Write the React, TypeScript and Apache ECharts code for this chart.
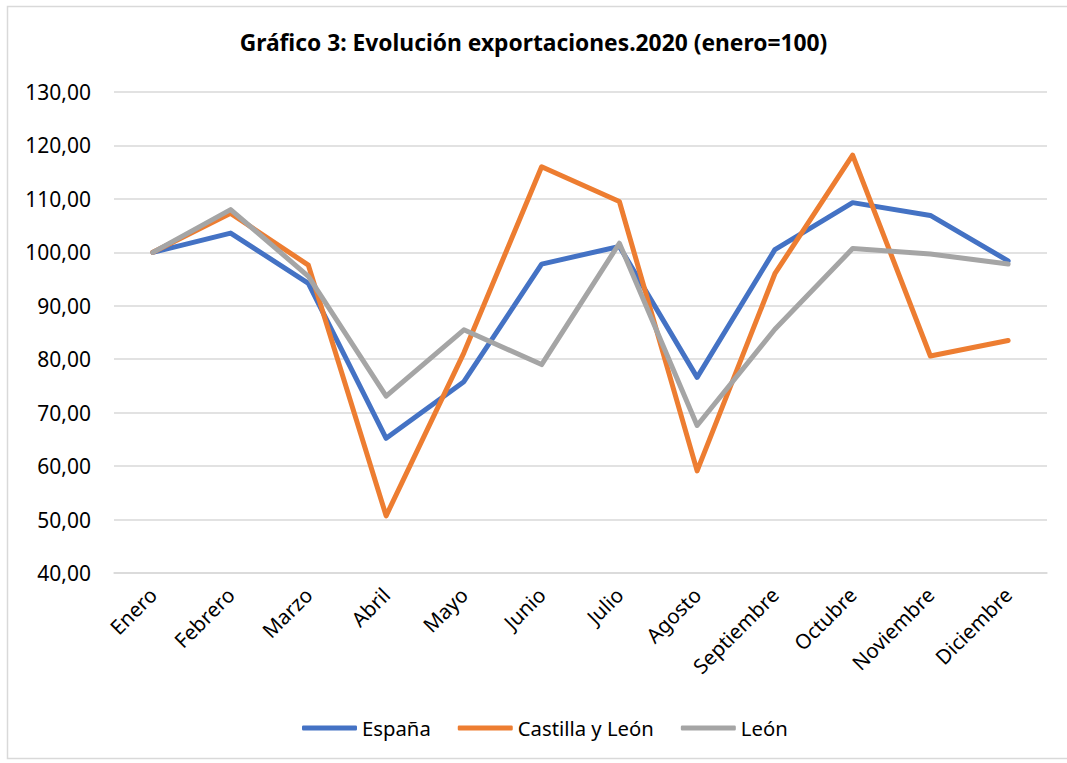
import React, { useEffect, useRef } from "react";
import * as echarts from "echarts";

const categories = ["Enero", "Febrero", "Marzo", "Abril", "Mayo", "Junio", "Julio", "Agosto", "Septiembre", "Octubre", "Noviembre", "Diciembre"];
const espana = [100, 103.6, 94.2, 65.2, 75.8, 97.8, 101.1, 76.6, 100.5, 109.3, 106.9, 98.4];
const castillaLeon = [100, 107.3, 97.6, 50.7, 81.2, 116.0, 109.5, 59.1, 96.0, 118.2, 80.6, 83.5];
const leon = [100, 108.0, 95.5, 73.1, 85.5, 79.0, 101.7, 67.6, 85.6, 100.7, 99.7, 97.8];
const seriesNames = ["España", "Castilla y León", "León"];
const seriesColors = ["#4472C4", "#ED7D31", "#A5A5A5"];
const titleText = "Gráfico 3: Evolución exportaciones.2020 (enero=100)";

export default function App() {
  const ref = useRef<HTMLDivElement>(null);
  useEffect(() => {
    if (!ref.current) return;
    const chart = echarts.init(ref.current, null, { renderer: "svg" });
    const font = "'Noto Sans', sans-serif";
    const datasets = [espana, castillaLeon, leon];
    chart.setOption({
      animation: false,
      backgroundColor: "#ffffff",
      textStyle: { fontFamily: font },
      title: {
        text: titleText,
        left: "center",
        top: 26,
        padding: [5, 5, 5, 21],
        textStyle: { fontFamily: font, fontSize: 22.8, fontWeight: "bold", color: "#000000" },
      },
      graphic: [
        {
          type: "rect",
          shape: { x: 7.5, y: 6.5, width: 1070, height: 752 },
          style: { fill: "none", stroke: "#d9d9d9", lineWidth: 1.5 },
          silent: true,
        },
      ],
      legend: {
        bottom: 20,
        left: 297,
        icon: "roundRect",
        itemWidth: 55,
        itemHeight: 5,
        itemGap: 27,
        data: seriesNames,
        textStyle: { fontFamily: font, fontSize: 20.3, color: "#000000" },
      },
      grid: { left: 114, right: 20, top: 92, bottom: 190, containLabel: false },
      xAxis: {
        type: "category",
        data: categories,
        boundaryGap: true,
        axisLine: { lineStyle: { color: "#d9d9d9", width: 1.5 } },
        axisTick: { show: false },
        axisLabel: { rotate: 45, margin: 18, fontFamily: font, fontSize: 20.5, color: "#000000" },
      },
      yAxis: {
        type: "value",
        min: 40,
        max: 130,
        interval: 10,
        axisLine: { show: false },
        axisTick: { show: false },
        splitLine: { lineStyle: { color: "#d9d9d9", width: 1.5 } },
        axisLabel: {
          margin: 23,
          fontFamily: font,
          fontSize: 21,
          color: "#000000",
          formatter: (v: number) => v.toFixed(2).replace(".", ","),
        },
      },
      series: seriesNames.map((name, i) => ({
        name,
        type: "line",
        data: datasets[i],
        symbol: "none",
        showSymbol: false,
        color: seriesColors[i],
        lineStyle: { color: seriesColors[i], width: 5, cap: "round", join: "round" },
      })),
    });
    return () => chart.dispose();
  }, []);
  return <div ref={ref} style={{ position: "fixed", left: 0, top: 0, width: 1067, height: 763 }} />;
}
